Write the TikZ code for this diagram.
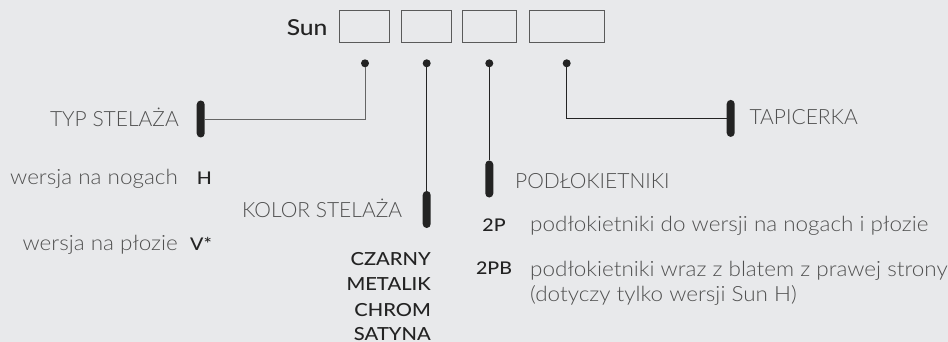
\documentclass[tikz,border=0pt]{standalone}
\usepackage{fontspec}
\setmainfont{Lato}
\newfontfamily\lightfont{Lato Light}
\newfontfamily\lightwidefont[FakeStretch=1.07]{Lato Light}
\newfontfamily\codefont[FakeStretch=1.12]{Lato Medium}
\usetikzlibrary{positioning}

\begin{document}
\begin{tikzpicture}[x=1pt,y=-1pt]

  % Define colors
  \definecolor{bgcolor}{RGB}{232,233,235}
  \definecolor{labelgray}{RGB}{80,80,80}
  \definecolor{inkdark}{RGB}{35,35,35}

  \tikzset{
    codebox/.style={draw=inkdark!75,line width=0.8pt,minimum height=31.6pt,inner sep=0pt},
    pin/.style={circle,fill=inkdark,minimum size=8pt,inner sep=0pt},
    tickbar/.style={fill=inkdark,rounded corners=4pt,minimum width=8pt,minimum height=37pt,inner sep=0pt},
    leader/.style={draw=inkdark,line width=0.9pt},
    caption/.style={font=\lightfont\fontsize{21}{25}\selectfont,text=labelgray,inner sep=0pt},
    note/.style={font=\lightwidefont\fontsize{21}{25}\selectfont,text=labelgray,inner sep=0pt},
    codetext/.style={font=\codefont\fontsize{17.5}{25}\selectfont,text=inkdark,inner sep=0pt},
    colorname/.style={codetext,font=\codefont\fontsize{18}{25}\selectfont,anchor=base east}
  }

  % background
  \fill[bgcolor] (0,0) rectangle (948,342);
  \useasboundingbox (0,0) rectangle (948,342);

  % product code boxes
  \node[codetext,font=\codefont\fontsize{22}{27}\selectfont,anchor=base east] (sun) at (327.7,35.7) {Sun};
  \node[codebox,minimum width=50.4pt] (frame) at (364.5,26.5) {};
  \node[codebox,minimum width=50.7pt] (color) at (426.3,26.5) {};
  \node[codebox,minimum width=54.4pt] (arm) at (489.5,26.5) {};
  \node[codebox,minimum width=75pt] (upholstery) at (566.8,26.5) {};

  % pins under the boxes
  \node[pin] (pframe) at (365,63.3) {};
  \node[pin] (pcolor) at (426.7,63.3) {};
  \node[pin] (parm) at (489.3,63.3) {};
  \node[pin] (pupholstery) at (566.7,63.3) {};

  % end bars
  \node[tickbar] (tframe) at (200.7,119) {};
  \node[tickbar] (tcolor) at (426.7,209.5) {};
  \node[tickbar] (tarm) at (489.3,179) {};
  \node[tickbar] (tupholstery) at (730.7,118.4) {};

  % leaders
  \draw[leader,draw=inkdark!70] (pframe) |- (tframe);
  \draw[leader] (pcolor) -- (tcolor);
  \draw[leader] (parm) -- (tarm);
  \draw[leader] (pupholstery) |- (tupholstery);

  % frame type
  \node[caption,anchor=base east] (frametitle) at (179,126.7) {TYP STELAŻA};
  \node[note,anchor=base east] (legs) at (178,184) {wersja na nogach};
  \node[codetext,anchor=base west] (legscode) at (196.7,184) {H};
  \node[note,anchor=base east] (sled) at (178,250.5) {wersja na płozie};
  \node[codetext,anchor=base west] (sledcode) at (190,250.5) {V*};

  % frame colour
  \node[caption,anchor=base east] (colortitle) at (402.3,217.7) {KOLOR STELAŻA};
  \node[colorname] (black) at (431,265) {CZARNY};
  \node[colorname] (metallic) at (431,290.5) {METALIK};
  \node[colorname] (chrome) at (431,316) {CHROM};
  \node[colorname] (satin) at (431,340) {SATYNA};

  % armrests
  \node[caption,anchor=base west] (armtitle) at (515,188.3) {PODŁOKIETNIKI};
  \node[codetext,anchor=base] (twop) at (494,231.7) {2P};
  \node[note,anchor=base west] (twopnote) at (530,231.7) {podłokietniki do wersji na nogach i płozie};
  \node[codetext,anchor=base] (twopb) at (494,274.3) {2PB};
  \node[note,anchor=base west] (twopbnote) at (530,276) {podłokietniki wraz z blatem z prawej strony};
  \node[note,anchor=base west] (twopbnext) at (530,301) {(dotyczy tylko wersji Sun H)};

  % upholstery
  \node[caption,anchor=base west] (uphtitle) at (749.3,125) {TAPICERKA};

\end{tikzpicture}
\end{document}
